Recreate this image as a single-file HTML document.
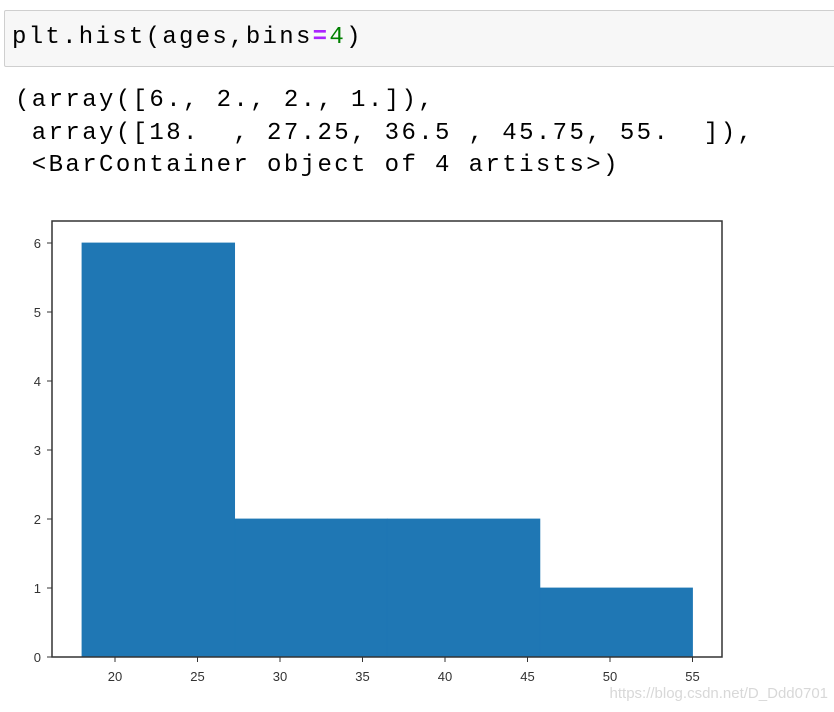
<!DOCTYPE html>
<html><head><meta charset="utf-8"><style>
body{margin:0;width:834px;height:712px;background:#fff;overflow:hidden;position:relative;font-family:"Liberation Mono",monospace}
.cell{position:absolute;left:4px;top:10px;width:832px;height:57px;background:#f7f7f7;border:1px solid #cfcfcf;border-radius:2px;box-sizing:border-box}
.code{position:absolute;left:12px;top:24px;font-size:24px;letter-spacing:2.3px;color:#000;white-space:pre}
.out{position:absolute;left:15px;font-size:24px;letter-spacing:2.4px;color:#000;white-space:pre}
</style></head><body>
<div class="cell"></div>
<div class="code">plt.hist(ages,bins<span style="color:#aa22ff;font-weight:bold">=</span><span style="color:#008000">4</span>)</div>
<div class="out" style="top:87px">(array([6., 2., 2., 1.]),</div>
<div class="out" style="top:120px"> array([18.  , 27.25, 36.5 , 45.75, 55.  ]),</div>
<div class="out" style="top:152px"> &lt;BarContainer object of 4 artists&gt;)</div>
<svg id="chart" width="834" height="712" style="position:absolute;left:0;top:0"></svg>
<script>
const counts=[6,2,2,1];
const edges=[18,27.25,36.5,45.75,55];
const xTicks=[20,25,30,35,40,45,50,55];
const yTicks=[0,1,2,3,4,5,6];
const X=v=>82+(v-18)*16.5;
const Y=v=>657-v*69;
const svg=document.getElementById('chart');
const NS='http://www.w3.org/2000/svg';
function mk(t,a){const e=document.createElementNS(NS,t);for(const k in a)e.setAttribute(k,a[k]);svg.appendChild(e);return e;}
counts.forEach((c,i)=>{
  const r=mk('rect',{x:X(edges[i]),y:Y(c),width:X(edges[i+1])-X(edges[i]),height:Y(0)-Y(c),fill:'#1f77b4',stroke:'#1f77b4',"stroke-width":0.8});
  
  
});
const frame=mk('rect',{x:52,y:221,width:670,height:436,fill:'none',stroke:'#333',"stroke-width":1.5});


xTicks.forEach(v=>{
  mk('line',{x1:X(v),x2:X(v),y1:657,y2:662,stroke:'#333'});
  const t=mk('text',{x:X(v),y:681,"text-anchor":'middle',"font-size":13,"font-family":'Liberation Sans, sans-serif',fill:'#333'});
  t.textContent=v;
  
  
});
yTicks.forEach(v=>{
  mk('line',{x1:47,x2:52,y1:Y(v),y2:Y(v),stroke:'#333'});
  const t=mk('text',{x:41,y:Y(v)+5,"text-anchor":'end',"font-size":13,"font-family":'Liberation Sans, sans-serif',fill:'#333'});
  t.textContent=v;
  
  
});
const w=mk('text',{x:828,y:698,"text-anchor":'end',"font-size":15,"font-family":'Liberation Sans, sans-serif',fill:'#d8d8d8'});
w.textContent='https://blog.csdn.net/D_Ddd0701';


</script>
</body></html>
